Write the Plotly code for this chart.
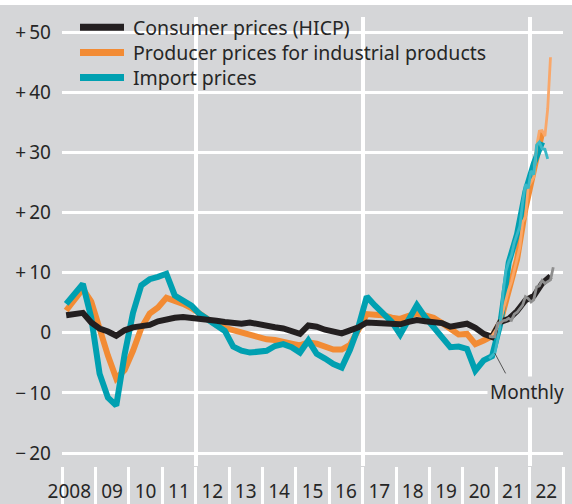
import plotly.graph_objects as go

# ---------------- data ----------------
year_labels = ["2008", "09", "10", "11", "12", "13", "14", "15", "16", "17", "18", "19", "20", "21", "22"]

series_names = ["Consumer prices (HICP)", "Producer prices for industrial products", "Import prices"]

# quarterly year-on-year rates, starting 2008 Q1
hicp_q = [2.9, 3.0, 3.3, 1.7, 0.7, 0.2, -0.5, 0.4, 0.9, 1.1, 1.3, 1.9, 2.3, 2.5, 2.6, 2.5,
          2.3, 2.1, 2.0, 1.8, 1.7, 1.5, 1.7, 1.4, 1.0, 0.9, 0.7, 0.3, -0.2, 1.2, 1.0, 0.5,
          0.1, -0.1, 0.4, 0.9, 1.7, 1.6, 1.6, 1.4, 1.4, 1.8, 2.1, 1.9, 1.7, 1.6, 1.0, 1.2,
          1.5, 0.8, -0.2, -0.7, 1.8, 2.3, 3.6, 5.4, 6.1, 8.2, 9.4]
ppi_q = [3.7, 5.5, 7.3, 5.2, 0.5, -3.8, -7.6, -6.2, -3.0, 0.8, 3.2, 4.2, 5.8, 5.4, 4.8, 4.1,
         3.2, 2.0, 1.3, 0.8, 0.4, -0.1, -0.5, -0.9, -1.1, -1.2, -1.4, -1.8, -2.1, -1.6, -1.8, -2.4,
         -2.8, -2.8, -2.0, 0.5, 3.1, 3.0, 2.9, 2.5, 2.3, 2.8, 3.2, 2.9, 2.5, 1.6, 0.6, -0.3,
         -0.2, -1.9, -1.3, -0.6, 1.8, 7.0, 12.2, 20.6, 27.3, 33.3]
imp_q = [4.8, 6.5, 8.1, 2.5, -6.8, -10.8, -12.1, -3.6, 3.3, 7.9, 8.9, 9.3, 9.8, 6.2, 5.2, 4.5,
         3.1, 2.1, 1.3, 0.3, -2.3, -3.0, -3.3, -3.2, -3.0, -2.2, -1.9, -2.4, -3.3, -1.3, -3.5, -4.3,
         -5.2, -5.8, -2.8, 1.0, 6.0, 4.5, 3.0, 1.8, -0.3, 2.2, 4.6, 2.6, 1.0, -0.8, -2.4, -2.3,
         -2.7, -6.3, -4.6, -3.9, 1.5, 11.7, 16.4, 23.5, 28.1, 31.7]

# monthly rates, starting October 2020
hicp_m = [-0.5, -0.7, -0.7, 1.6, 1.6, 2.0, 2.1, 2.4, 2.1, 3.1, 3.4, 4.1, 4.6, 6.0, 5.7, 5.1,
          5.5, 7.6, 7.8, 8.7, 8.2, 8.5, 8.8, 10.9]
ppi_m = [-0.7, -0.5, 0.2, 0.9, 1.9, 3.7, 5.2, 7.2, 8.5, 10.4, 12.0, 14.2, 18.4, 19.2, 24.2, 25.0,
         25.9, 30.9, 33.5, 33.6, 32.7, 37.2, 45.8]
imp_m = [-4.3, -3.8, -3.4, -1.2, 1.4, 6.9, 10.3, 11.8, 12.9, 15.0, 16.5, 17.7, 21.7, 24.7, 24.0, 26.9,
         26.3, 31.2, 31.7, 30.6, 30.5, 28.9]

y_ticks = [50, 40, 30, 20, 10, 0, -10, -20]

# ---------------- helpers ----------------
FIRST_YEAR = 2008
MONTHLY_START = (2020, 10)


def qx(i):
    return FIRST_YEAR + (i + 0.5) / 4


def mx(i):
    y0, m0 = MONTHLY_START
    return y0 + (m0 - 1 + i + 0.5) / 12


def ylabel(v):
    if v > 0:
        return "+\u2009" + str(v)
    if v < 0:
        return "\u2212\u2009" + str(-v)
    return "0"


BG = "#d5d6d8"
TXT = "#262626"
FONT = "Noto Sans"
C_BLACK = "#231f20"
C_ORANGE = "#f28b34"
C_TEAL = "#00a0b1"
MAIN_W = 6
MONTH_W = 2.8

fig = go.Figure()

# main quarterly lines (orange, teal, black on top)
fig.add_trace(go.Scatter(x=[qx(i) for i in range(len(ppi_q))], y=ppi_q, mode="lines",
                         name=series_names[1], line=dict(color=C_ORANGE, width=MAIN_W)))
fig.add_trace(go.Scatter(x=[qx(i) for i in range(len(imp_q))], y=imp_q, mode="lines",
                         name=series_names[2], line=dict(color=C_TEAL, width=MAIN_W)))
fig.add_trace(go.Scatter(x=[qx(i) for i in range(len(hicp_q))], y=hicp_q, mode="lines",
                         name=series_names[0], line=dict(color=C_BLACK, width=MAIN_W)))
# monthly overlays
fig.add_trace(go.Scatter(x=[mx(i) for i in range(len(ppi_m))], y=ppi_m, mode="lines",
                         name=series_names[1] + " (monthly)", line=dict(color="#f9a769", width=MONTH_W)))
fig.add_trace(go.Scatter(x=[mx(i) for i in range(len(imp_m))], y=imp_m, mode="lines",
                         name=series_names[2] + " (monthly)", line=dict(color="#3bb8c7", width=MONTH_W)))
fig.add_trace(go.Scatter(x=[mx(i) for i in range(len(hicp_m))], y=hicp_m, mode="lines",
                         name=series_names[0] + " (monthly)", line=dict(color="#8e8e8e", width=MONTH_W)))
# invisible trace to activate xaxis2 (year labels)
fig.add_trace(go.Scatter(x=[None], y=[None], xaxis="x2", yaxis="y", showlegend=False))

x_range = [FIRST_YEAR, FIRST_YEAR + len(year_labels)]
label_pos = [FIRST_YEAR + i + 0.5 for i in range(len(year_labels))]
label_pos[0] = FIRST_YEAR + 0.22

# paper-coordinate helpers (plot area 62..563 x 17..466 px)
L, R, T, B = 62, 9, 17, 38
W, H = 572, 504
PW, PH = W - L - R, H - T - B


def px2x(px):
    return (px - L) / PW


def py2y(py):
    return (H - B - py) / PH


shapes = []
# masks behind legend rows (hide gridlines where the legend sits)
for (x0, x1, y0, y1) in [(70, 359, 12, 40), (126, 493, 34, 72), (126, 266, 72, 98)]:
    shapes.append(dict(type="rect", xref="paper", yref="paper", layer="between",
                       x0=px2x(x0), x1=px2x(x1), y0=py2y(y1), y1=py2y(y0),
                       fillcolor=BG, line=dict(width=0)))
# white strip at the very top
shapes.append(dict(type="rect", xref="paper", yref="paper", layer="above",
                   x0=px2x(-10), x1=px2x(W + 10), y0=py2y(5), y1=py2y(-5),
                   fillcolor="white", line=dict(width=0)))

# legend (drawn as key lines + labels)
legend_rows = [27.2, 52.4, 77.6]
legend_cols = [C_BLACK, C_ORANGE, C_TEAL]
annotations = []
for name, col, py in zip(series_names, legend_cols, legend_rows):
    shapes.append(dict(type="line", xref="paper", yref="paper", layer="above",
                       x0=px2x(80), x1=px2x(124), y0=py2y(py), y1=py2y(py),
                       line=dict(color=col, width=7)))
    annotations.append(dict(xref="paper", yref="paper", x=px2x(131), y=py2y(py),
                            xanchor="left", yanchor="middle", text=name, showarrow=False,
                            font=dict(size=19.5, color=TXT, family=FONT)))

fig.update_layout(
    width=W, height=H,
    margin=dict(l=L, r=R, t=T, b=B, pad=0, autoexpand=False),
    paper_bgcolor=BG, plot_bgcolor=BG,
    font=dict(family=FONT, color=TXT, size=19),
    showlegend=False,
    xaxis=dict(range=x_range, tickmode="array", tickvals=[2012, 2017, 2022],
               showgrid=True, gridcolor="white", gridwidth=3.5, automargin=False,
               ticks="outside", ticklen=38, tickwidth=3.3, tickcolor="white",
               showticklabels=False, zeroline=False, showline=False,
               minor=dict(tickmode="linear", tick0=FIRST_YEAR, dtick=1, ticks="outside",
                          ticklen=38, tickwidth=3.3, tickcolor="white", showgrid=False)),
    xaxis2=dict(range=x_range, overlaying="x", side="bottom", anchor="y", automargin=False,
                tickmode="array", tickvals=label_pos, ticktext=year_labels,
                ticks="", showgrid=False, zeroline=False, showline=False,
                tickfont=dict(size=19, color=TXT, family=FONT), ticklabelstandoff=12),
    yaxis=dict(range=[-22.16, 52.5], tickmode="array", tickvals=y_ticks,
               ticktext=[ylabel(v) for v in y_ticks], automargin=False,
               showgrid=True, gridcolor="white", gridwidth=2.6, zeroline=False,
               showline=False, ticks="", ticklabelstandoff=10,
               tickfont=dict(size=19, color=TXT, family=FONT)),
    shapes=shapes,
    annotations=annotations,
)

# "Monthly" label and leader line
fig.add_annotation(x=FIRST_YEAR + (527.5 - 62.5) / 33.37, y=-9.9, xref="x", yref="y",
                   text="Monthly", showarrow=False, bgcolor=BG, borderpad=2,
                   font=dict(size=19, color=TXT, family=FONT))
fig.add_annotation(x=mx(2), y=imp_m[2], xref="x", yref="y", text="",
                   showarrow=True, arrowhead=0, arrowwidth=0.8, arrowcolor="#333333",
                   ax=11.6, ay=21.7)

fig.write_html("out.html", config={"displayModeBar": False},
               post_script="document.body.style.margin='0';document.body.style.padding='0';")
